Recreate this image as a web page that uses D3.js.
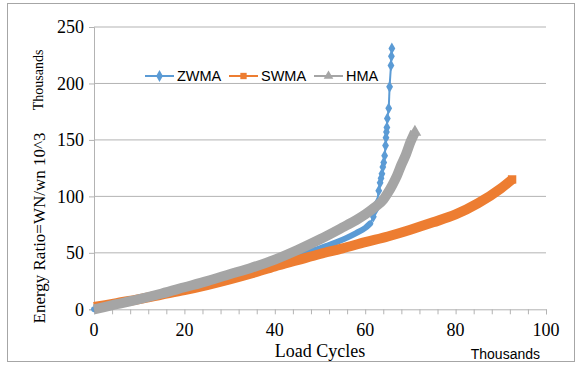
<!DOCTYPE html>
<html>
<head>
<meta charset="utf-8">
<script src="https://cdn.jsdelivr.net/npm/d3@7"></script>
<style>
  body { margin: 0; background: #fff; }
</style>
</head>
<body>
<div id="chart"></div>
<script>
// values, in thousands
const zwmaX = [0, 5, 10, 15, 20, 25, 30, 35, 40, 45, 50, 52, 54, 56, 58, 60, 61.1, 61.8, 62.3, 62.6, 63.0, 63.3, 63.5, 63.7, 63.9, 64.1, 64.3, 64.5, 64.6, 64.7, 64.8, 64.9, 65.2, 65.4, 65.7, 65.8, 65.9];
const zwmaY = [0, 4, 8.5, 13, 18, 23.5, 29, 35, 41, 47.5, 54, 57, 60, 63.5, 67.5, 72, 76, 82, 88, 94, 105, 112, 116, 120, 126, 130, 136, 145, 152, 157, 161, 169, 178, 197, 216, 224, 231];

const swmaX = [0, 5, 10, 15, 20, 25, 30, 35, 40, 45, 50, 55, 60, 65, 70, 75, 80, 85, 90, 92.5];
const swmaY = [2, 5.5, 9, 13, 17, 21.5, 26.5, 32, 38, 43.5, 49, 54, 59.5, 64.5, 70.5, 77, 84, 94, 107, 115];

const hmaX = [0, 5, 10, 15, 20, 25, 30, 35, 40, 45, 50, 55, 58, 60, 62, 64, 65, 66, 67, 68, 69, 70, 71];
const hmaY = [0, 4.5, 9, 14, 19.5, 25, 31, 37, 44, 52.5, 62, 72.5, 79, 84, 90, 97, 103, 110, 118, 128, 137, 148, 157];

const xTicks = [0, 20, 40, 60, 80, 100];
const yTicks = [0, 50, 100, 150, 200, 250];
const seriesNames = ["ZWMA", "SWMA", "HMA"];

const SERIF = '"Liberation Serif", "Times New Roman", serif';
const SANS = '"Liberation Sans", Arial, sans-serif';

const W = 577, H = 366;
const plotL = 94, plotR = 546, plotT = 27, plotB = 309.3;

const svg = d3.select("#chart").append("svg")
  .attr("width", W).attr("height", H);

svg.append("rect")
  .attr("x", 7.5).attr("y", 3.5)
  .attr("width", 567).attr("height", 358)
  .attr("fill", "#fff").attr("stroke", "#a6a6a6");

const x = d3.scaleLinear().domain([0, 100]).range([plotL, plotR]);
const y = d3.scaleLinear().domain([0, 250]).range([plotB, plotT]);

// horizontal gridlines
svg.append("g")
  .selectAll("line")
  .data(yTicks.filter(d => d > 0))
  .join("line")
  .attr("x1", plotL).attr("x2", plotR)
  .attr("y1", d => y(d)).attr("y2", d => y(d))
  .attr("stroke", "#b3b3b3");

// y axis
const yAxis = svg.append("g")
  .attr("transform", `translate(${plotL},0)`)
  .call(d3.axisLeft(y).tickValues(yTicks).tickSize(5).tickPadding(5));
yAxis.attr("font-family", null).attr("font-size", null);
yAxis.select(".domain").attr("stroke", "#b3b3b3");
yAxis.selectAll(".tick line").attr("stroke", "#b3b3b3");
yAxis.selectAll("text")
  .style("font-family", SERIF).style("font-size", "18px").attr("fill", "#000");

// x axis, minor ticks every 4
const xAxis = svg.append("g")
  .attr("transform", `translate(0,${plotB})`)
  .call(d3.axisBottom(x).tickValues(d3.range(0, 101, 4)).tickSize(5).tickFormat(""));
xAxis.select(".domain").attr("stroke", "#b3b3b3");
xAxis.selectAll(".tick line").attr("stroke", "#b3b3b3");

svg.append("g")
  .selectAll("text")
  .data(xTicks)
  .join("text")
  .style("font-family", SERIF).style("font-size", "18px")
  .attr("x", d => x(d)).attr("y", 336)
  .attr("text-anchor", "middle")
  .text(d => d);

// series
const series = [
  { name: "ZWMA", xs: zwmaX, ys: zwmaY, color: "#5b9bd5", shape: d3.symbolDiamond },
  { name: "SWMA", xs: swmaX, ys: swmaY, color: "#ed7d31", shape: d3.symbolSquare },
  { name: "HMA", xs: hmaX, ys: hmaY, color: "#a5a5a5", shape: d3.symbolTriangle }
].map(s => ({ ...s, pts: s.xs.map((v, i) => [v, s.ys[i]]) }));

const line = d3.line().curve(d3.curveMonotoneX).x(d => x(d[0])).y(d => y(d[1]));

series.forEach(s => {
  const g = svg.append("g");
  if (s.name === "ZWMA") {
    // dense low part reads as a thick band
    g.append("path")
      .datum(s.pts.filter(p => p[1] <= 76))
      .attr("fill", "none").attr("stroke", s.color)
      .attr("stroke-width", 6).attr("stroke-linejoin", "round").attr("stroke-linecap", "round")
      .attr("d", line);
    g.append("path")
      .datum(s.pts)
      .attr("fill", "none").attr("stroke", s.color).attr("stroke-width", 2)
      .attr("d", line);
    g.selectAll("path.m")
      .data(s.pts.filter(p => p[1] > 76))
      .join("path")
      .attr("class", "m")
      .attr("transform", p => `translate(${x(p[0])},${y(p[1])})`)
      .attr("d", d3.symbol(s.shape, 40))
      .attr("fill", s.color);
  } else {
    g.append("path")
      .datum(s.pts)
      .attr("fill", "none").attr("stroke", s.color)
      .attr("stroke-width", 10).attr("stroke-linejoin", "round")
      .attr("d", line);
    const last = s.pts[s.pts.length - 1];
    g.append("path")
      .attr("transform", `translate(${x(last[0])},${y(last[1])})`)
      .attr("d", d3.symbol(s.shape, 70))
      .attr("fill", s.color);
  }
});

// legend
const legendX = [145, 229, 314];
const legend = svg.append("g");
series.forEach((s, i) => {
  const lx = legendX[i];
  legend.append("line")
    .attr("x1", lx).attr("x2", lx + 29)
    .attr("y1", 76).attr("y2", 76)
    .attr("stroke", s.color).attr("stroke-width", 2);
  legend.append("path")
    .attr("transform", `translate(${lx + 14.5},76)`)
    .attr("d", d3.symbol(s.shape, 40))
    .attr("fill", s.color);
  legend.append("text")
    .style("font-family", SANS).style("font-size", "14.5px")
    .attr("x", lx + 32).attr("y", 81)
    .text(seriesNames[i]);
});

// titles
svg.append("text")
  .style("font-family", SERIF).style("font-size", "18px")
  .attr("x", (plotL + plotR) / 2).attr("y", 357)
  .attr("text-anchor", "middle")
  .text("Load Cycles");

svg.append("text")
  .style("font-family", SANS).style("font-size", "14px")
  .attr("x", 540).attr("y", 359)
  .attr("text-anchor", "end")
  .text("Thousands");

svg.append("text")
  .style("font-family", SERIF).style("font-size", "17px")
  .attr("transform", "translate(45,228) rotate(-90)")
  .attr("text-anchor", "middle")
  .text("Energy Ratio=WN/wn 10^3");

svg.append("text")
  .style("font-family", SERIF).style("font-size", "14px")
  .attr("transform", "translate(43,80) rotate(-90)")
  .attr("text-anchor", "middle")
  .text("Thousands");
</script>
</body>
</html>
